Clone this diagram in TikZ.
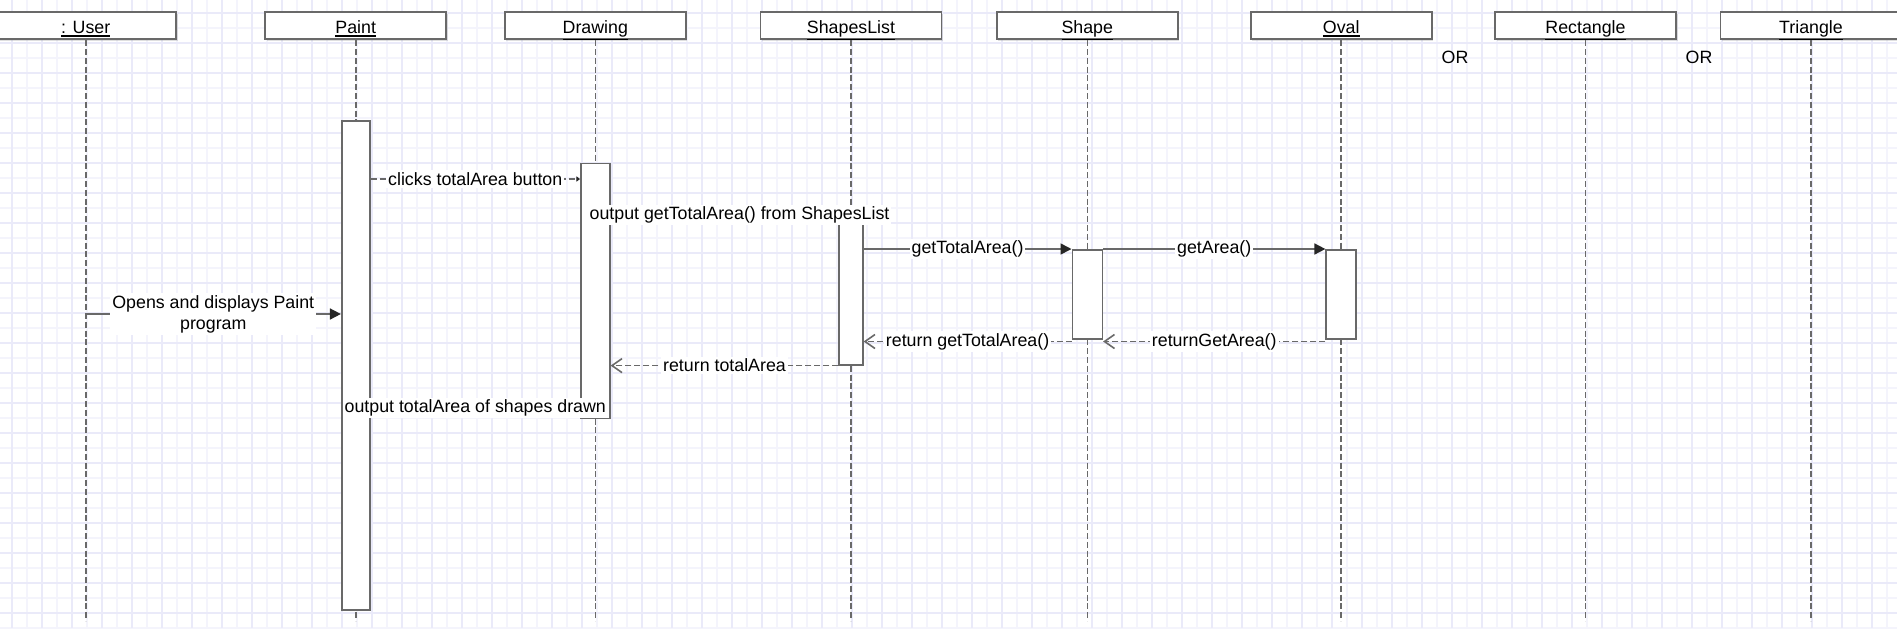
\documentclass[tikz,border=0pt]{standalone}
\usepackage{fontspec}
\setmainfont{Liberation Sans}
\usetikzlibrary{arrows.meta,shadows}
\definecolor{gridmajor}{RGB}{234,234,249}
\definecolor{gridminor}{RGB}{244,244,252}
\definecolor{linegray}{RGB}{105,105,105}
\newcommand{\objname}[1]{\leavevmode\vtop{\hbox{#1}\kern1pt\hrule height 0.7pt}}

\begin{document}
\begin{tikzpicture}[x=0.5pt, y=-0.5pt,
  every node/.style={font=\fontsize{8.9}{10.6}\selectfont},
  head/.style={draw=linegray, line width=0.9pt, fill=white, minimum width=90.5pt, minimum height=13.5pt, inner sep=0pt,
    text height=8pt, text depth=0.8pt,
    drop shadow={shadow xshift=0.8pt, shadow yshift=-0.8pt, opacity=0.25}},
  life/.style={draw=linegray, line width=0.8pt, dash pattern=on 3pt off 1.4pt},
  act/.style={draw=linegray, line width=0.8pt, fill=white, anchor=north, inner sep=0pt},
  lbl/.style={fill=white, inner sep=1pt},
  call/.style={draw=linegray, line width=0.8pt, -{Triangle[length=5.5pt,width=5.5pt,black!85]}},
  signal/.style={draw=linegray, line width=0.8pt, dash pattern=on 3pt off 1.5pt, -{Triangle[length=1.8pt,width=2.6pt,black!85]}},
  reply/.style={draw=linegray, line width=0.8pt, dash pattern=on 3pt off 1.5pt, -{Straight Barb[length=5pt,width=7pt]}}]
\useasboundingbox (0,0) rectangle (1897,628);
\clip (0,0) rectangle (1897,628);

% Grid
\fill[white] (0,0) rectangle (1897,628);
\foreach \gx in {27,57,...,1887} \draw[gridminor, line width=0.6pt] (\gx,0) -- (\gx,628);
\foreach \gy in {28,58,...,628} \draw[gridminor, line width=0.6pt] (0,\gy) -- (1897,\gy);
\foreach \gx in {12,42,...,1897} \draw[gridmajor, line width=0.6pt] (\gx,0) -- (\gx,628);
\foreach \gy in {13,43,...,628} \draw[gridmajor, line width=0.6pt] (0,\gy) -- (1897,\gy);

% Objects
\node[head] (user) at (85.7,25.8) {\objname{: User}};
\node[head] (paint) at (355.7,25.8) {\objname{Paint}};
\node[head] (drawing) at (595.3,25.8) {\objname{Drawing}};
\node[head] (list) at (851,25.8) {\objname{ShapesList}};
\node[head] (shape) at (1087.3,25.8) {\objname{Shape}};
\node[head] (oval) at (1341.2,25.8) {\objname{Oval}};
\node[head] (rect) at (1585.5,25.8) {\objname{Rectangle}};
\node[head] (tri) at (1811,25.8) {\objname{Triangle}};
\node (or1) at (1455,57) {OR};
\node (or2) at (1699,57) {OR};

% Lifelines
\coordinate (bottom) at (0,621);
\foreach \n in {user,paint,drawing,list,shape,oval,rect,tri}
  \draw[life] (\n.south) -- (\n.south |- bottom);

% Activations
\node[act, minimum width=14pt, minimum height=244.5pt] (actPaint) at (355.7,120) {};
\node[act, minimum width=14.5pt, minimum height=127.6pt] (actDraw) at (595.3,162.5) {};
\node[act, minimum width=11.8pt, minimum height=75.5pt] (actList) at (851,213) {};
\node[act, minimum width=15pt, minimum height=44.5pt] (actShape) at (1087.3,249) {};
\node[act, minimum width=15pt, minimum height=44.5pt] (actOval) at (1341.2,249) {};

% Messages
\coordinate (mOpen) at (85.7,314);
\coordinate (mClick) at (0,179);
\coordinate (mOut) at (0,215);
\coordinate (mRet) at (0,341.5);
\coordinate (mShow) at (0,408);
\draw[call] (mOpen) -- node[lbl, align=center] {Opens and displays Paint\\program} (actPaint.west |- mOpen);
\draw[signal] (actPaint.east |- mClick) -- node[lbl] {clicks totalArea button} (actDraw.west |- mClick);
\draw[call] (actDraw.east |- mOut) -- node[lbl, pos=0.566] {output getTotalArea() from ShapesList} (actList.west |- mOut);
\draw[call] (actList.east |- actShape.north) -- node[lbl] {getTotalArea()} (actShape.north west);
\draw[call] (actShape.north east) -- node[lbl] {getArea()} (actOval.north west);

% Returns
\draw[reply] (actOval.west |- mRet) -- node[lbl] {returnGetArea()} (actShape.east |- mRet);
\draw[reply] (actShape.west |- mRet) -- node[lbl] {return getTotalArea()} (actList.east |- mRet);
\draw[reply] (actList.south west) -- node[lbl] {return totalArea} (actDraw.east |- actList.south west);
\draw[call] (actDraw.west |- mShow) -- node[lbl] {output totalArea of shapes drawn} (actPaint.east |- mShow);
\end{tikzpicture}
\end{document}
